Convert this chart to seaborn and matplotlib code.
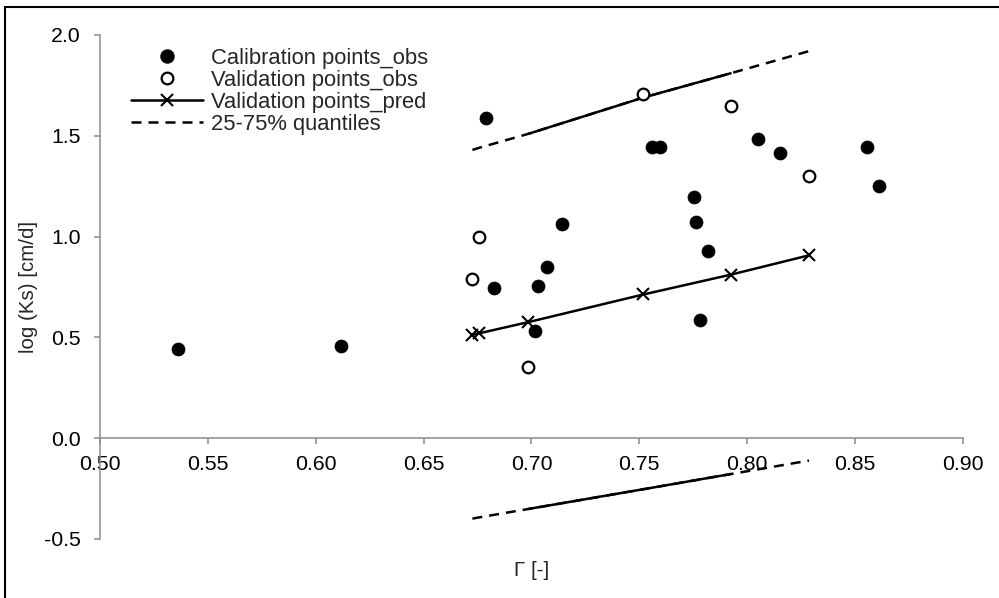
import matplotlib
matplotlib.use("Agg")
import matplotlib.pyplot as plt
from matplotlib.lines import Line2D
import seaborn as sns

# ---- data ----
cal_x = [0.536, 0.6115, 0.6787, 0.6827, 0.7029, 0.7015, 0.707, 0.7142, 0.7558,
         0.7596, 0.7754, 0.7762, 0.7780, 0.7819, 0.805, 0.815, 0.8554, 0.861]
cal_y = [0.44, 0.455, 1.59, 0.746, 0.754, 0.534, 0.849, 1.064, 1.444,
         1.444, 1.196, 1.074, 0.584, 0.927, 1.482, 1.416, 1.446, 1.249]

val_x = [0.6726, 0.6756, 0.6986, 0.7519, 0.7923, 0.8286]
val_obs = [0.788, 0.996, 0.351, 1.709, 1.646, 1.300]
val_pred = [0.513, 0.520, 0.576, 0.713, 0.811, 0.907]
q25 = [-0.399, -0.393, -0.351, -0.253, -0.178, -0.111]
q75 = [1.43, 1.44, 1.51, 1.69, 1.81, 1.92]

x_ticks = [0.50, 0.55, 0.60, 0.65, 0.70, 0.75, 0.80, 0.85, 0.90]
y_ticks = [-0.5, 0.0, 0.5, 1.0, 1.5, 2.0]
labels = ["Calibration points_obs", "Validation points_obs",
          "Validation points_pred", "25-75% quantiles"]
x_label = "Γ [-]"
y_label = "log (Ks) [cm/d]"

sns.set_style("white")
plt.rcParams['font.family'] = ['Liberation Sans', 'DejaVu Sans']
FS_TICK = 15.3
FS_LEG = 15.8
FS_LAB = 14.8

fig = plt.figure(figsize=(9.99, 5.98), dpi=100)
ax = fig.add_axes([100 / 999, 1 - 539 / 598, 863 / 999, 504 / 598])

LW = 1.8
dash = (0, (4, 2.8))

# quantile lines: dashed full range, solid in the middle
for q in (q25, q75):
    sns.lineplot(x=val_x, y=q, ax=ax, color='black', lw=LW, linestyle=dash,
                 estimator=None, sort=False, zorder=2)
    sns.lineplot(x=val_x[2:5], y=q[2:5], ax=ax, color='black', lw=LW,
                 estimator=None, sort=False, zorder=2)

# predicted validation line
sns.lineplot(x=val_x, y=val_pred, ax=ax, color='black', lw=LW, marker='x',
             markersize=9, markeredgewidth=1.5, markeredgecolor='black',
             estimator=None, sort=False, zorder=3)

# calibration points (filled)
sns.scatterplot(x=cal_x, y=cal_y, ax=ax, color='black', edgecolor='black',
                s=88, linewidth=0.5, zorder=4)
# validation points (open)
sns.scatterplot(x=val_x, y=val_obs, ax=ax, facecolor='white', edgecolor='black',
                s=70, linewidth=1.6, zorder=4)

ax.set_xlim(0.5, 0.9)
ax.set_ylim(-0.5, 2.0)
ax.set_xticks(x_ticks)
ax.set_xticklabels([f"{v:.2f}" for v in x_ticks])
ax.set_yticks(y_ticks)
ax.set_yticklabels([f"{v:.1f}" for v in y_ticks])

for s in ('top', 'right'):
    ax.spines[s].set_visible(False)
ax.spines['bottom'].set_position(('data', 0))
for s in ('left', 'bottom'):
    ax.spines[s].set_color('#8c8c8c')
    ax.spines[s].set_linewidth(1.1)

ax.tick_params(axis='both', direction='out', length=4, width=1.1,
               color='#8c8c8c', labelsize=FS_TICK, labelcolor='black')
ax.tick_params(axis='y', pad=10, left=True)
ax.tick_params(axis='x', pad=8, bottom=True)

ax.set_xlabel(x_label, fontsize=FS_LAB)
ax.set_ylabel(y_label, fontsize=FS_LAB)
ax.xaxis.set_label_coords(0.5, -0.044)
ax.yaxis.set_label_coords(-0.0718, 0.5)

handles = [
    Line2D([], [], color='black', marker='o', linestyle='none', markersize=9.4),
    Line2D([], [], color='black', marker='o', markerfacecolor='white',
           markeredgewidth=1.6, linestyle='none', markersize=8.4),
    Line2D([], [], color='black', marker='x', lw=LW, markersize=9,
           markeredgewidth=1.5),
    Line2D([], [], color='black', lw=LW, linestyle=dash),
]
ax.legend(handles, labels, loc='upper left', bbox_to_anchor=(0.036, 0.975),
          frameon=False, fontsize=FS_LEG, handlelength=3.3, handletextpad=0.33,
          labelspacing=0.05, borderpad=0, borderaxespad=0)

# outer border (left and top visible in the reference)
fig.add_artist(Line2D([5 / 999, 5 / 999], [0, 1 - 7 / 598], color='black',
                      lw=1.5, transform=fig.transFigure))
fig.add_artist(Line2D([5 / 999, 1], [1 - 7 / 598, 1 - 7 / 598], color='black',
                      lw=1.5, transform=fig.transFigure))

fig.savefig("out.png", dpi=100)
